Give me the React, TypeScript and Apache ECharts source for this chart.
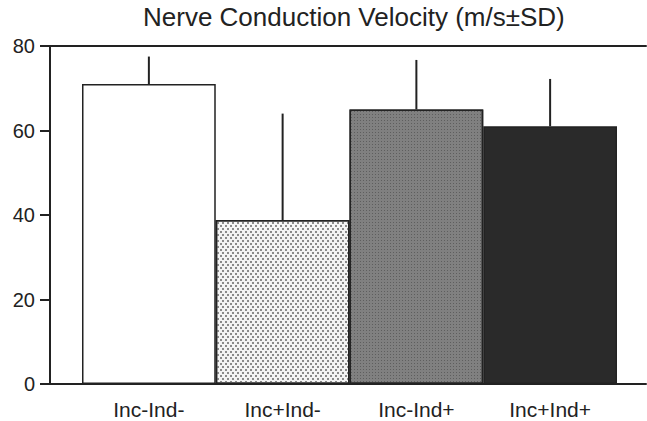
import React, { useEffect, useRef } from "react";
import * as echarts from "echarts";

const categories = ["Inc-Ind-", "Inc+Ind-", "Inc-Ind+", "Inc+Ind+"];
const means = [71, 38.8, 65, 61];
const sds = [6.5, 25.2, 11.7, 11.2];
const yTicks = [0, 20, 40, 60, 80];
const titleText = "Nerve Conduction Velocity (m/s±SD)";

const FONT = "'Liberation Sans', Arial, Helvetica, sans-serif";
const INK = "#222";

export default function App() {
  const ref = useRef<HTMLDivElement>(null);
  useEffect(() => {
    if (!ref.current) return;
    const chart = echarts.init(ref.current, null, { renderer: "svg" });
    const fills = [
      { color: "#ffffff" },
      {
        color: "#f4f4f4",
        decal: {
          symbol: "rect",
          symbolSize: 1,
          color: "#8a8a8a",
          dashArrayX: [[1.5, 2.5], [0, 2, 1.5, 0.5]],
          dashArrayY: [1.5, 0.5],
          rotation: 0,
        },
      },
      {
        color: "#808080",
        decal: {
          symbol: "rect",
          symbolSize: 1,
          color: "#5e5e5e",
          dashArrayX: [1, 2],
          dashArrayY: [1, 2],
          rotation: 0,
        },
      },
      { color: "#2a2a2a" },
    ];
    const barData = means.map((v, i) => ({
      value: v,
      itemStyle: {
        color: fills[i].color,
        decal: (fills[i] as any).decal,
        borderColor: INK,
        borderWidth: 1.5,
      },
    }));
    const errData = means.map((v, i) => [i, v, sds[i]]);
    chart.setOption({
      animation: false,
      backgroundColor: "#ffffff",
      title: {
        text: titleText,
        left: 143,
        top: 0,
        padding: [4, 0],
        textStyle: { fontFamily: FONT, fontSize: 26, fontWeight: "normal", color: INK },
      },
      grid: [
        { left: 50, right: 1, top: 46, bottom: 37 },
        { left: 82, right: 30, top: 46, bottom: 37 },
      ],
      xAxis: [
        {
          type: "value",
          gridIndex: 0,
          min: 0,
          max: 1,
          position: "bottom",
          axisLine: { show: true, lineStyle: { color: INK, width: 2 } },
          axisTick: { show: false },
          axisLabel: { show: false },
          splitLine: { show: false },
        },
        {
          type: "value",
          gridIndex: 0,
          min: 0,
          max: 1,
          position: "top",
          axisLine: { show: true, lineStyle: { color: INK, width: 2 } },
          axisTick: { show: false },
          axisLabel: { show: false },
          splitLine: { show: false },
        },
        {
          type: "category",
          gridIndex: 1,
          data: categories,
          axisLine: { show: false },
          axisTick: { show: false },
          axisLabel: {
            margin: 15,
            fontFamily: FONT,
            fontSize: 21,
            color: INK,
          },
        },
      ],
      yAxis: [
        {
          type: "value",
          gridIndex: 0,
          min: yTicks[0],
          max: yTicks[yTicks.length - 1],
          interval: 20,
          axisLine: { show: true, lineStyle: { color: INK, width: 2 } },
          axisTick: { show: true, inside: false, length: 10, lineStyle: { color: INK, width: 2 } },
          axisLabel: { margin: 15, fontFamily: FONT, fontSize: 20, color: INK },
          splitLine: { show: false },
        },
        {
          type: "value",
          gridIndex: 1,
          min: yTicks[0],
          max: yTicks[yTicks.length - 1],
          interval: 20,
          show: false,
        },
      ],
      series: [
        {
          type: "bar",
          xAxisIndex: 2,
          yAxisIndex: 1,
          data: barData,
          barWidth: "100%",
          barCategoryGap: 0,
          z: 2,
        },
        {
          type: "custom",
          xAxisIndex: 2,
          yAxisIndex: 1,
          data: errData,
          z: 3,
          renderItem: (params: any, api: any) => {
            const x = api.value(0);
            const m = api.value(1);
            const s = api.value(2);
            const base = api.coord([x, m]);
            const top = api.coord([x, m + s]);
            return {
              type: "line",
              shape: { x1: base[0], y1: base[1], x2: top[0], y2: top[1] },
              style: { stroke: INK, lineWidth: 2 },
            };
          },
        },
      ],
    });
    return () => chart.dispose();
  }, []);
  return (
    <div
      ref={ref}
      style={{ position: "absolute", left: 0, top: 0, width: 647, height: 421 }}
    />
  );
}
